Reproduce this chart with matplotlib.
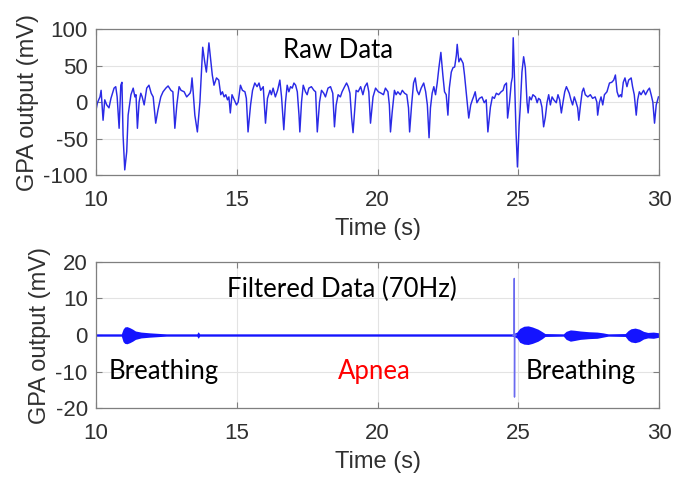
import matplotlib
matplotlib.use("Agg")
import matplotlib.pyplot as plt

plt.rcParams["axes.unicode_minus"] = False

# --- Raw GPA trace (time in s, output in mV) ---
raw_t = [10.00, 10.05, 10.14, 10.18, 10.25, 10.31, 10.38, 10.46, 10.53, 10.64, 10.70, 10.75,
         10.82, 10.88, 10.92, 10.96, 11.02, 11.09, 11.14, 11.24, 11.32, 11.38, 11.42, 11.47,
         11.53, 11.59, 11.64, 11.71, 11.80, 11.88, 11.96, 12.03, 12.12, 12.20, 12.30, 12.38,
         12.48, 12.56, 12.66, 12.73, 12.80, 12.87, 12.95, 13.02, 13.13, 13.22, 13.34, 13.37,
         13.41, 13.45, 13.51, 13.60, 13.69, 13.74, 13.79, 13.86, 13.92, 14.01, 14.08, 14.13,
         14.19, 14.28, 14.36, 14.43, 14.49, 14.55, 14.61, 14.67, 14.72, 14.77, 14.83, 14.91,
         14.99, 15.05, 15.13, 15.20, 15.29, 15.34, 15.40, 15.49, 15.56, 15.64, 15.72, 15.79,
         15.85, 15.94, 16.02, 16.09, 16.18, 16.23, 16.29, 16.37, 16.45, 16.53, 16.59, 16.67,
         16.73, 16.79, 16.85, 16.91, 16.97, 17.03, 17.09, 17.15, 17.21, 17.24, 17.30, 17.36,
         17.44, 17.50, 17.56, 17.65, 17.74, 17.80, 17.86, 17.94, 18.01, 18.09, 18.15, 18.24,
         18.33, 18.41, 18.47, 18.53, 18.60, 18.68, 18.74, 18.83, 18.90, 18.96, 19.02, 19.08,
         19.13, 19.20, 19.24, 19.31, 19.40, 19.48, 19.55, 19.63, 19.69, 19.75, 19.84, 19.93,
         20.03, 20.13, 20.21, 20.28, 20.37, 20.42, 20.46, 20.52, 20.60, 20.66, 20.72, 20.81,
         20.88, 20.96, 21.04, 21.10, 21.14, 21.21, 21.28, 21.34, 21.40, 21.47, 21.55, 21.64,
         21.71, 21.77, 21.83, 21.88, 21.94, 22.00, 22.06, 22.12, 22.18, 22.25, 22.32, 22.38,
         22.44, 22.50, 22.55, 22.62, 22.68, 22.74, 22.80, 22.83, 22.89, 22.95, 23.04, 23.09,
         23.15, 23.24, 23.31, 23.37, 23.41, 23.47, 23.53, 23.62, 23.71, 23.79, 23.86, 23.92,
         24.01, 24.08, 24.15, 24.22, 24.30, 24.39, 24.46, 24.51, 24.58, 24.62, 24.69, 24.75,
         24.79, 24.82, 24.87, 24.92, 24.97, 25.03, 25.07, 25.13, 25.19, 25.25, 25.31, 25.35,
         25.40, 25.46, 25.52, 25.61, 25.67, 25.72, 25.78, 25.84, 25.90, 25.96, 26.02, 26.08,
         26.14, 26.20, 26.26, 26.35, 26.41, 26.47, 26.53, 26.59, 26.65, 26.71, 26.81, 26.87,
         26.93, 26.99, 27.05, 27.11, 27.15, 27.21, 27.27, 27.32, 27.38, 27.47, 27.56, 27.64,
         27.73, 27.79, 27.82, 27.88, 27.94, 28.00, 28.06, 28.15, 28.24, 28.32, 28.39, 28.45,
         28.51, 28.57, 28.63, 28.67, 28.73, 28.79, 28.86, 28.92, 29.01, 29.06, 29.12, 29.19,
         29.24, 29.30, 29.36, 29.45, 29.52, 29.60, 29.66, 29.72, 29.78, 29.84, 29.90, 29.98]
raw_v = [-11, -1, 7, 16, -25, 3, -4, -8, 5, 19, 21, 7,
         -36, 23, 27, -45, -93, -68, -18, 10, 19, 7, 10, -36,
         0, 12, 7, -4, 19, 23, 12, 7, -29, -11, 7, 14,
         19, 22, 16, 14, -36, -4, 21, 16, 14, 7, 12, 16,
         33, 14, -18, -41, 0, 37, 75, 55, 41, 81, 55, 37,
         23, 33, 30, 10, 14, 7, 10, 3, 7, -15, 10, 3,
         -4, 0, 23, 16, 14, 5, -41, -4, 16, 26, 21, 26,
         16, 21, -29, 5, 16, 10, 19, 7, 16, 30, 7, -38,
         0, 23, 14, 21, 19, 26, 23, 14, -18, -41, 0, 23,
         14, 10, 19, 21, 16, 14, -41, 0, 16, 12, 7, 19,
         21, 12, -34, -4, 10, 7, 14, 21, 26, 21, 12, -22,
         -42, -4, 16, 14, 21, 10, 21, 26, 14, -29, 7, 19,
         14, 12, 10, 19, 14, -4, -41, -14, 16, 10, 14, 10,
         16, 12, 10, -8, -41, -4, 26, 33, 16, 10, 19, 26,
         14, -4, -49, -8, 12, 21, 10, 26, 47, 68, 37, 14,
         10, -18, 19, 41, 47, 48, 64, 79, 55, 60, 53, 37,
         14, -22, -4, 3, 7, 14, -1, 5, 7, -1, 3, -41,
         -7, 7, 5, 12, 10, 14, 16, 23, 26, -22, 0, 26,
         34, 88, 27, -41, -89, -32, -7, 41, 62, 47, 0, -15,
         7, 3, 10, 7, -1, 5, 3, -7, -34, -21, -1, 10,
         -4, 7, 3, -1, 10, 3, -15, 0, 14, 21, 12, 3,
         -4, 7, 0, -8, -25, -4, 14, 19, 10, 7, 10, 5,
         7, 0, -18, -1, 7, -4, 10, 14, 26, 27, 30, 37,
         14, 7, 10, 7, 27, 33, 21, 30, 33, 21, 10, -18,
         3, 14, 10, 16, 10, 16, 19, 10, 0, -29, -4, 7]

# --- Filtered (70 Hz) trace: burst envelope and the artefact spike ---
filt_t = [10.00, 10.90, 10.96, 11.02, 11.10, 11.20, 11.30, 11.40, 11.60, 11.90, 12.30, 12.50,
          13.58, 13.63, 13.68, 24.80, 24.95, 25.05, 25.20, 25.35, 25.50, 25.70, 25.85, 25.95,
          26.60, 26.70, 26.85, 27.00, 27.20, 27.50, 27.80, 28.00, 28.20, 28.80, 28.90, 29.00,
          29.15, 29.30, 29.45, 29.60, 29.80, 30.00]
filt_upper = [0.3, 0.3, 1.6, 2.2, 2.3, 2.0, 1.6, 1.1, 0.8, 0.6, 0.4, 0.3,
              0.3, 0.9, 0.3, 0.3, 0.8, 1.8, 2.4, 2.5, 2.2, 1.6, 0.9, 0.4,
              0.3, 1.0, 1.4, 1.3, 1.1, 0.9, 0.8, 0.6, 0.3, 0.4, 1.2, 1.7,
              1.9, 1.6, 1.0, 0.7, 0.8, 0.6]
filt_lower = [-0.3, -0.3, -1.8, -2.3, -2.4, -2.1, -1.7, -1.2, -0.8, -0.6, -0.4, -0.3,
              -0.3, -0.9, -0.3, -0.3, -0.8, -2.0, -2.5, -2.6, -2.3, -1.7, -1.0, -0.4,
              -0.3, -1.2, -1.7, -1.5, -1.2, -1.0, -0.9, -0.6, -0.3, -0.4, -1.4, -1.9,
              -2.1, -1.8, -1.1, -0.8, -0.9, -0.6]
spike_t = [24.80, 24.850, 24.858, 24.866, 24.875, 24.92]
spike_v = [0, 0, 15.5, -17.0, 0, 0]

x_ticks = [10, 15, 20, 25, 30]
raw_yticks = [-100, -50, 0, 50, 100]
filt_yticks = [-20, -10, 0, 10, 20]

line_blue = "#2a2ae6"
tick_col = "#303030"
frame_col = "#7f7f7f"
label_font = "Liberation Sans"
note_font = "Lato"
note_size = 18.5

fig = plt.figure(figsize=(6.84, 4.78), dpi=100)
ax1 = fig.add_axes([0.1404, 0.6339, 0.8231, 0.3054])
ax2 = fig.add_axes([0.1404, 0.1464, 0.8231, 0.3055])


def style(ax, yticks):
    ax.set_xlim(10, 30)
    ax.set_xticks(x_ticks)
    ax.set_yticks(yticks)
    ax.set_ylim(yticks[0], yticks[-1])
    ax.grid(True, color="#e3e3e3", linewidth=0.8)
    ax.set_axisbelow(True)
    for s in ax.spines.values():
        s.set_color(frame_col)
        s.set_linewidth(0.9)
    ax.tick_params(direction="in", length=4, width=0.8, color=frame_col,
                   labelcolor=tick_col, labelsize=16, top=True, right=True)
    ax.tick_params(axis="x", pad=11)
    ax.tick_params(axis="y", pad=6)
    for lab in ax.get_xticklabels() + ax.get_yticklabels():
        lab.set_fontfamily(label_font)
    ax.set_xlabel("Time (s)", fontsize=17, family=label_font, color=tick_col, labelpad=5)
    ax.set_ylabel("GPA output (mV)", fontsize=17, family=label_font, color=tick_col, labelpad=3)


ax1.plot(raw_t, raw_v, color=line_blue, linewidth=1.05)
style(ax1, raw_yticks)
ax1.text(16.65, 71, "Raw Data", fontsize=note_size, family=note_font, color="black", va="center")

ax2.fill_between(filt_t, filt_lower, filt_upper, color="#1414ff", linewidth=0)
ax2.plot([filt_t[0], filt_t[-1]], [0, 0], color="#1414ff", linewidth=1.0)
ax2.plot(spike_t, spike_v, color="#6a6af0", linewidth=1.0)
style(ax2, filt_yticks)
ax2.text(14.66, 12.6, "Filtered Data (70Hz)", fontsize=note_size, family=note_font,
         color="black", va="center")
ax2.text(10.43, -10, "Breathing", fontsize=note_size, family=note_font, color="black", va="center")
ax2.text(18.6, -10, "Apnea", fontsize=note_size, family=note_font, color="red", va="center")
ax2.text(25.25, -10, "Breathing", fontsize=note_size, family=note_font, color="black", va="center")

fig.savefig("out.png", dpi=100)
